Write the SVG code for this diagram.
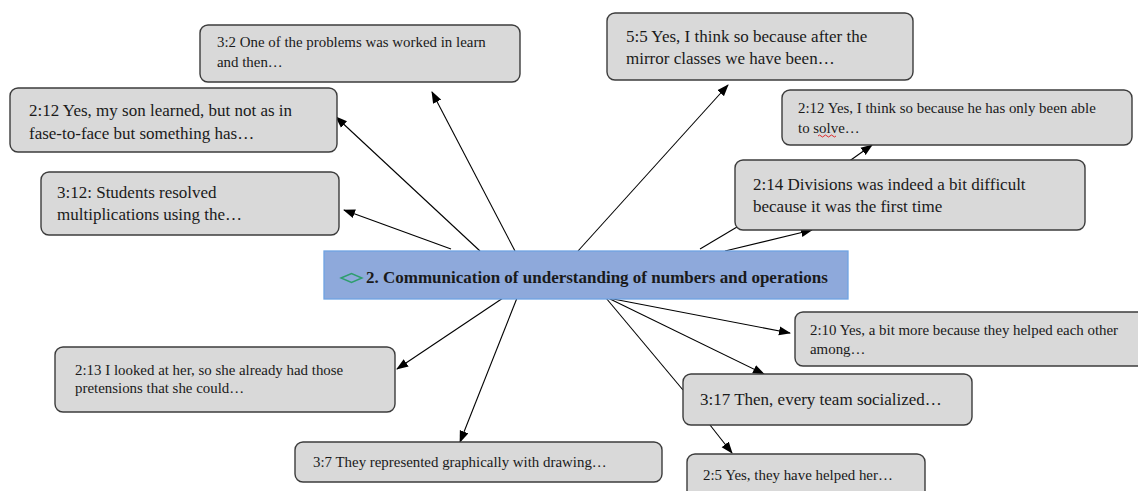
<svg xmlns="http://www.w3.org/2000/svg" width="1138" height="491" viewBox="0 0 1138 491">
<defs>
<marker id="ah" markerWidth="12" markerHeight="10" refX="11" refY="5" orient="auto" markerUnits="userSpaceOnUse">
<path d="M0,0.5 L12,5 L0,9.5 Z" fill="#000"/>
</marker>
<style>
.box{fill:#D9D9D9;stroke:#3c3c3c;stroke-width:1.4}
text{font-family:'Liberation Serif','Times New Roman',serif;fill:#1a1a1a}
.s{font-size:14.9px}
.l{font-size:17px}
.c{stroke:#000;stroke-width:1.1;fill:none}
.a{marker-end:url(#ah)}
</style>
</defs>
<rect width="1138" height="491" fill="#fff"/>
<g id="connectors">
<line class="c a" x1="515" y1="251" x2="432" y2="92"/>
<line class="c a" x1="480" y1="251" x2="336" y2="117"/>
<line class="c a" x1="451" y1="249" x2="344" y2="210"/>
<line class="c a" x1="578" y1="251" x2="728" y2="85"/>
<line class="c a" x1="848" y1="162" x2="872" y2="145"/>
<line class="c" x1="700" y1="249" x2="737" y2="227"/>
<line class="c a" x1="725" y1="251" x2="812" y2="230"/>
<line class="c a" x1="608" y1="298" x2="790" y2="333"/>
<line class="c a" x1="608" y1="298" x2="764" y2="374"/>
<line class="c" x1="606" y1="298" x2="683" y2="390"/>
<line class="c a" x1="710" y1="425" x2="732" y2="453"/>
<line class="c a" x1="503" y1="298" x2="397" y2="369"/>
<line class="c a" x1="517" y1="298" x2="460" y2="442"/>
</g>
<g id="center">
<rect x="324" y="251" width="524" height="48" fill="#8EA9DB" stroke="#6FA3E3" stroke-width="1.3"/>
<path d="M341,278 L351.5,273.5 L362,278 L351.5,282.5 Z" fill="none" stroke="#2E9E6E" stroke-width="1.4"/>
<text x="366" y="283" font-size="17" font-weight="bold" fill="#000">2. Communication of understanding of numbers and operations</text>
</g>
<g id="n32">
<rect class="box" x="200" y="25" width="320" height="57" rx="8"/>
<text class="s" x="217" y="47">3:2 One of the problems was worked in learn</text>
<text class="s" x="217" y="67">and then…</text>
</g>
<g id="n55">
<rect class="box" x="607" y="13" width="306" height="67" rx="8"/>
<text class="l" x="626" y="42">5:5 Yes, I think so because after the</text>
<text class="l" x="626" y="64">mirror classes we have been…</text>
</g>
<g id="n212a">
<rect class="box" x="10" y="88" width="327" height="64" rx="8"/>
<text class="l" x="29" y="116">2:12 Yes, my son learned, but not as in</text>
<text class="l" x="29" y="139">fase-to-face but something has…</text>
</g>
<g id="n212b">
<rect class="box" x="782" y="90" width="350" height="55" rx="8"/>
<text class="s" x="798" y="113">2:12 Yes, I think so because he has only been able</text>
<text class="s" x="798" y="133">to solve…</text>
<path d="M818,136 q1.5,-2 3,0 t3,0 t3,0 t3,0 t3,0 t3,0" fill="none" stroke="#d00" stroke-width="0.8"/>
</g>
<g id="n214">
<rect class="box" x="735" y="160" width="350" height="70" rx="8"/>
<text class="l" x="753" y="190">2:14 Divisions was indeed a bit difficult</text>
<text class="l" x="753" y="212">because it was the first time</text>
</g>
<g id="n312">
<rect class="box" x="41" y="172" width="298" height="63" rx="8"/>
<text class="l" x="57" y="198">3:12: Students resolved</text>
<text class="l" x="57" y="220">multiplications using the…</text>
</g>
<g id="n210">
<rect class="box" x="795" y="312" width="360" height="54" rx="8"/>
<text class="s" x="810" y="335">2:10 Yes, a bit more because they helped each other</text>
<text class="s" x="810" y="354">among…</text>
</g>
<g id="n213">
<rect class="box" x="55" y="347" width="340" height="65" rx="8"/>
<text class="s" x="75" y="375">2:13 I looked at her, so she already had those</text>
<text class="s" x="75" y="393">pretensions that she could…</text>
</g>
<g id="n317">
<rect class="box" x="683" y="374" width="289" height="51" rx="8"/>
<text class="l" x="700" y="405">3:17 Then, every team socialized…</text>
</g>
<g id="n37">
<rect class="box" x="295" y="442" width="367" height="40" rx="8"/>
<text class="s" x="313" y="467">3:7 They represented graphically with drawing…</text>
</g>
<g id="n25">
<rect class="box" x="687" y="454" width="238" height="50" rx="8"/>
<text class="s" x="703" y="480">2:5 Yes, they have helped her…</text>
</g>
</svg>
